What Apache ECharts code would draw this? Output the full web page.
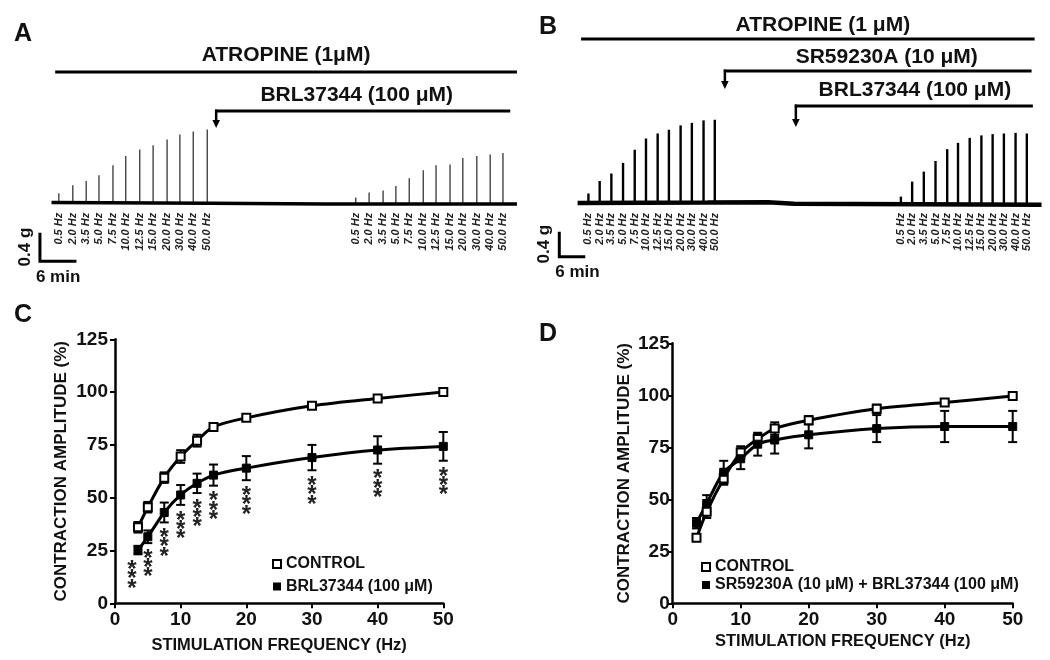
<!DOCTYPE html>
<html><head><meta charset="utf-8">
<script src="https://cdn.jsdelivr.net/npm/echarts@6/dist/echarts.min.js"></script>
<style>html,body{margin:0;padding:0;background:#fff}#c{width:1050px;height:660px}</style>
</head><body><div id="c"></div>
<script>
// ---------------- DATA ----------------
const hzLabels = ['0.5 Hz','2.0 Hz','3.5 Hz','5.0 Hz','7.5 Hz','10.0 Hz','12.5 Hz','15.0 Hz','20.0 Hz','30.0 Hz','40.0 Hz','50.0 Hz'];
// Panel A: stimulation times (min) and twitch amplitude (g)
const traceA_ctrlTime = [1.2,3.5,5.7,7.8,10.1,12.2,14.5,16.7,19.0,21.1,23.3,25.6];
const traceA_ctrlAmp  = [0.14,0.25,0.31,0.39,0.53,0.66,0.75,0.81,0.89,0.96,1.00,1.03];
const traceA_brlTime  = [50.0,52.2,54.5,56.6,58.8,61.1,63.2,65.5,67.6,69.9,72.1,74.2];
const traceA_brlAmp   = [0.08,0.15,0.18,0.24,0.35,0.46,0.53,0.54,0.63,0.66,0.68,0.70];
const traceA_baseline = [[0,0.01],[26,0.0],[45,-0.01],[76.5,-0.01]];
const drugsA = [['ATROPINE (1\u03bcM)',0.6,76.5],['BRL37344 (100 \u03bcM)',26.9,75.4]];
// Panel B
const traceB_ctrlTime = [2.5,5.1,7.8,10.5,13.2,15.8,18.5,21.1,23.8,26.4,29.1,31.7];
const traceB_ctrlAmp  = [0.16,0.36,0.48,0.65,0.86,1.04,1.12,1.18,1.25,1.29,1.33,1.34];
const traceB_drugTime = [74.7,77.3,80.0,82.7,85.4,87.9,90.6,93.3,95.9,98.5,101.2,103.8];
const traceB_drugAmp  = [0.11,0.35,0.51,0.68,0.87,0.97,1.05,1.09,1.11,1.12,1.13,1.12];
const traceB_baseline = [[0,0.01],[30,0.015],[44,0.02],[50,-0.005],[107.2,-0.02]];
const drugsB = [['ATROPINE (1 \u03bcM)',0.8,105.6],['SR59230A (10 \u03bcM)',33.8,104.9],['BRL37344 (100 \u03bcM)',50.2,105.2]];
const scaleMinutes = 6, scaleGrams = 0.4;
// Panels C and D: frequency-response curves (mean ± SEM, %)
const freqs = [3.5,5,7.5,10,12.5,15,20,30,40,50];
const cControlMean = [36,45.5,59.5,69.5,77,83.5,87.8,93.5,97,100];
const cControlErr  = [2.5,2.5,2.5,3,2.8,1.5,1.2,1,1,0.5];
const cBrlMean     = [25.2,31.5,43,51.3,56.8,60.7,64,69,72.6,74.3];
const cBrlErr      = [2,3,4.7,4.7,4.6,5,5.7,6,6.5,6.8];
const cSig         = ['***','***','***','***','***','***','***','***','***','***'];
const dControlMean = [31.5,44,60,72.5,79,84,88,93.5,96.5,99.7];
const dControlErr  = [1.5,3,3,3,2.5,3,2,2,1,0.5];
const dTreatMean   = [38.5,48,63,69.5,76.5,78.5,81,84,85,85];
const dTreatErr    = [2.5,4,5.5,5,5.5,6.5,6.5,6.5,7.5,7.5];
const nameControl = 'CONTROL';
const nameBrl = 'BRL37344 (100 \u03bcM)';
const nameCombo = 'SR59230A (10 \u03bcM) + BRL37344 (100 \u03bcM)';

// ---------------- LAYOUT / STYLE ----------------
const FONT = '"Liberation Sans", Arial, Helvetica, sans-serif';
const rowsA = [{lineY:72,textY:55,textDx:0},{lineY:111,textY:95,arrowY:128,textDx:-6}];
const rowsB = [{lineY:39,textY:25.5,textDx:15},{lineY:71,textY:57.5,arrowY:89,textDx:9},{lineY:106,textY:90,arrowY:127,textDx:1}];
const scaleAtA = [-1.9,-0.81], scaleAtB = [-4.23,-0.85];
const sigShift = {0:-6};

function spikeSeries(ax, times, amps, color, width) {
  return {
    type:'custom', coordinateSystem:'cartesian2d', xAxisIndex:ax, yAxisIndex:ax, z:3,
    data: times.map((t,i)=>[t, amps[i]]),
    renderItem(params, api) {
      const b = api.coord([api.value(0), 0]);
      const t = api.coord([api.value(0), api.value(1)]);
      return {type:'group', children:[
        {type:'line', shape:{x1:b[0],y1:b[1],x2:t[0],y2:t[1]}, style:{stroke:color,lineWidth:width}},
        {type:'text', x:b[0], y:b[1]+9.5, rotation:Math.PI/2,
          style:{text:hzLabels[params.dataIndex], align:'right', verticalAlign:'middle',
                 font:'italic bold 11px '+FONT, fill:'#222'}}
      ]};
    }
  };
}
function baselineSeries(ax, data, width) {
  return {type:'line', xAxisIndex:ax, yAxisIndex:ax, data, symbol:'none', z:4,
    lineStyle:{color:'#000', width}, silent:true};
}
function drugSeries(ax, drugs, rows) {
  return {
    type:'custom', coordinateSystem:'cartesian2d', xAxisIndex:ax, yAxisIndex:ax, z:5,
    data: drugs.map(d=>[d[1], d[2]]),
    renderItem(params, api) {
      const r = rows[params.dataIndex];
      const x1 = api.coord([api.value(0),0])[0], x2 = api.coord([api.value(1),0])[0];
      const ch = [{type:'line', shape:{x1, y1:r.lineY, x2, y2:r.lineY}, style:{stroke:'#000', lineWidth:3}}];
      if (r.arrowY) {
        ch.push({type:'line', shape:{x1:x1+1, y1:r.lineY-1.5, x2:x1+1, y2:r.arrowY-6}, style:{stroke:'#000', lineWidth:2.5}});
        ch.push({type:'polygon', shape:{points:[[x1-2.8,r.arrowY-8],[x1+4.8,r.arrowY-8],[x1+1,r.arrowY]]}, style:{fill:'#000'}});
      }
      ch.push({type:'text', x:(x1+x2)/2 + r.textDx, y:r.textY,
        style:{text:drugs[params.dataIndex][0], align:'center', verticalAlign:'middle', font:'bold 21px '+FONT, fill:'#111'}});
      return {type:'group', children:ch};
    }
  };
}
function scaleSeries(ax, at) {
  return {
    type:'custom', coordinateSystem:'cartesian2d', xAxisIndex:ax, yAxisIndex:ax, z:5,
    data:[[scaleMinutes, scaleGrams]],
    renderItem(params, api) {
      const o = api.coord(at);
      const s = api.size([api.value(0), api.value(1)]);
      return {type:'group', children:[
        {type:'polyline', shape:{points:[[o[0],o[1]-s[1]],[o[0],o[1]],[o[0]+s[0],o[1]]]}, style:{stroke:'#000', lineWidth:3, fill:null}},
        {type:'text', x:o[0]-14.5, y:o[1]-s[1]/2, rotation:Math.PI/2,
          style:{text:scaleGrams+' g', align:'center', verticalAlign:'middle', font:'bold 17px '+FONT, fill:'#111'}},
        {type:'text', x:o[0]-4, y:o[1]+16,
          style:{text:scaleMinutes+' min', align:'left', verticalAlign:'middle', font:'bold 17px '+FONT, fill:'#111'}}
      ]};
    }
  };
}
function errSeries(ax, means, errs, sig) {
  return {
    type:'custom', coordinateSystem:'cartesian2d', xAxisIndex:ax, yAxisIndex:ax, z:2,
    data: freqs.map((f,i)=>[f, means[i]-errs[i], means[i]+errs[i]]),
    renderItem(params, api) {
      const lo = api.coord([api.value(0), api.value(1)]);
      const hi = api.coord([api.value(0), api.value(2)]);
      const x = lo[0], w = 4.5;
      const ch = [
        {type:'line', shape:{x1:x,y1:lo[1],x2:x,y2:hi[1]}, style:{stroke:'#000',lineWidth:2}},
        {type:'line', shape:{x1:x-w,y1:lo[1],x2:x+w,y2:lo[1]}, style:{stroke:'#000',lineWidth:2}},
        {type:'line', shape:{x1:x-w,y1:hi[1],x2:x+w,y2:hi[1]}, style:{stroke:'#000',lineWidth:2}}
      ];
      if (sig) {
        const i = params.dataIndex;
        ch.push({type:'text', x:x+(sigShift[i]||0), y:lo[1]+11.5,
          style:{text:sig[i].split('').join('\n'), align:'center', verticalAlign:'top', lineHeight:9.3,
                 font:'bold 24px '+FONT, fill:'#222'}});
      }
      return {type:'group', children:ch};
    }
  };
}
function curveSeries(ax, name, means, open) {
  return {
    type:'line', name, xAxisIndex:ax, yAxisIndex:ax, z:3, smooth:0.3,
    data: freqs.map((f,i)=>[f, means[i]]),
    symbol:'rect', symbolSize: 8,
    itemStyle: open ? {color:'#fff', borderColor:'#000', borderWidth:2} : {color:'#000', borderColor:'#000', borderWidth:1},
    lineStyle:{color:'#000', width:3}
  };
}
function traceAxisX(gi, min, max){ return {gridIndex:gi, type:'value', min, max, show:false}; }
function traceAxisY(gi, min, max){ return {gridIndex:gi, type:'value', min, max, show:false}; }
function curveX(gi, gap){
  return {gridIndex:gi, type:'value', min:0, max:50, interval:10,
    name:'STIMULATION FREQUENCY (Hz)', nameLocation:'middle', nameGap:gap,
    nameTextStyle:{fontFamily:FONT, fontWeight:'bold', fontSize:16.5, color:'#111'},
    axisLine:{lineStyle:{color:'#000', width:2.5}},
    axisTick:{length:5, lineStyle:{color:'#000', width:2}},
    axisLabel:{fontFamily:FONT, fontWeight:'bold', fontSize:19, color:'#111', margin:7},
    splitLine:{show:false}};
}
function curveY(gi, gap, margin){
  return {gridIndex:gi, type:'value', min:0, max:125, interval:25,
    name:'CONTRACTION AMPLITUDE (%)', nameLocation:'middle', nameGap:gap,
    nameTextStyle:{fontFamily:FONT, fontWeight:'bold', fontSize:17, color:'#111'},
    axisLine:{show:true, lineStyle:{color:'#000', width:2.5}},
    axisTick:{show:true, length:5, lineStyle:{color:'#000', width:2}},
    axisLabel:{fontFamily:FONT, fontWeight:'bold', fontSize:19, color:'#111', margin},
    splitLine:{show:false}};
}
function letter(t, left, top){
  return {text:t, left, top, padding:0, textStyle:{fontFamily:FONT, fontWeight:'bold', fontSize:25, color:'#111'}};
}
const openIcon = {icon:'rect', itemStyle:{color:'#fff', borderColor:'#000', borderWidth:2}};
const fillIcon = {icon:'rect', itemStyle:{color:'#000', borderColor:'#000', borderWidth:0}};

const option = {
  animation:false,
  backgroundColor:'#fff',
  title:[letter('A',14,21.5), letter('B',539,14.5), letter('C',14,303), letter('D',539,321.5)],
  grid:[
    {left:15, top:24, width:505, height:251},
    {left:530, top:3.5, width:515, height:262.5},
    {left:115, top:339.3, width:328.3, height:264},
    {left:672.7, top:343.3, width:340, height:260}
  ],
  xAxis:[traceAxisX(0,-6,77), traceAxisX(1,-11,108), curveX(2,34), curveX(3,30)],
  yAxis:[traceAxisY(0,-1,2.5), traceAxisY(1,-1,3.2), curveY(2,45,7), curveY(3,40,3)],
  legend:[
    {left:272, top:556, padding:0, orient:'vertical', itemWidth:8, itemHeight:8, itemGap:6.5, selectedMode:false,
     textStyle:{fontFamily:FONT, fontWeight:'bold', fontSize:16, color:'#111'},
     data:[Object.assign({name:nameControl}, openIcon), Object.assign({name:nameBrl}, fillIcon)]},
    {left:701, top:559, padding:0, orient:'vertical', itemWidth:8, itemHeight:8, itemGap:2, selectedMode:false,
     textStyle:{fontFamily:FONT, fontWeight:'bold', fontSize:16, color:'#111'},
     data:[Object.assign({name:nameControl}, openIcon), Object.assign({name:nameCombo}, fillIcon)]}
  ],
  series:[
    baselineSeries(0, traceA_baseline, 3.5),
    spikeSeries(0, traceA_ctrlTime, traceA_ctrlAmp, '#444', 1.4),
    spikeSeries(0, traceA_brlTime, traceA_brlAmp, '#444', 1.4),
    drugSeries(0, drugsA, rowsA),
    scaleSeries(0, scaleAtA),
    baselineSeries(1, traceB_baseline, 4.5),
    spikeSeries(1, traceB_ctrlTime, traceB_ctrlAmp, '#000', 2.4),
    spikeSeries(1, traceB_drugTime, traceB_drugAmp, '#000', 2.4),
    drugSeries(1, drugsB, rowsB),
    scaleSeries(1, scaleAtB),
    errSeries(2, cControlMean, cControlErr, null),
    errSeries(2, cBrlMean, cBrlErr, cSig),
    curveSeries(2, nameControl, cControlMean, true),
    curveSeries(2, nameBrl, cBrlMean, false),
    errSeries(3, dControlMean, dControlErr, null),
    errSeries(3, dTreatMean, dTreatErr, null),
    curveSeries(3, nameControl, dControlMean, true),
    curveSeries(3, nameCombo, dTreatMean, false)
  ]
};
const chart = echarts.init(document.getElementById('c'), null, {renderer:'canvas'});
chart.setOption(option);
</script>
</body></html>
